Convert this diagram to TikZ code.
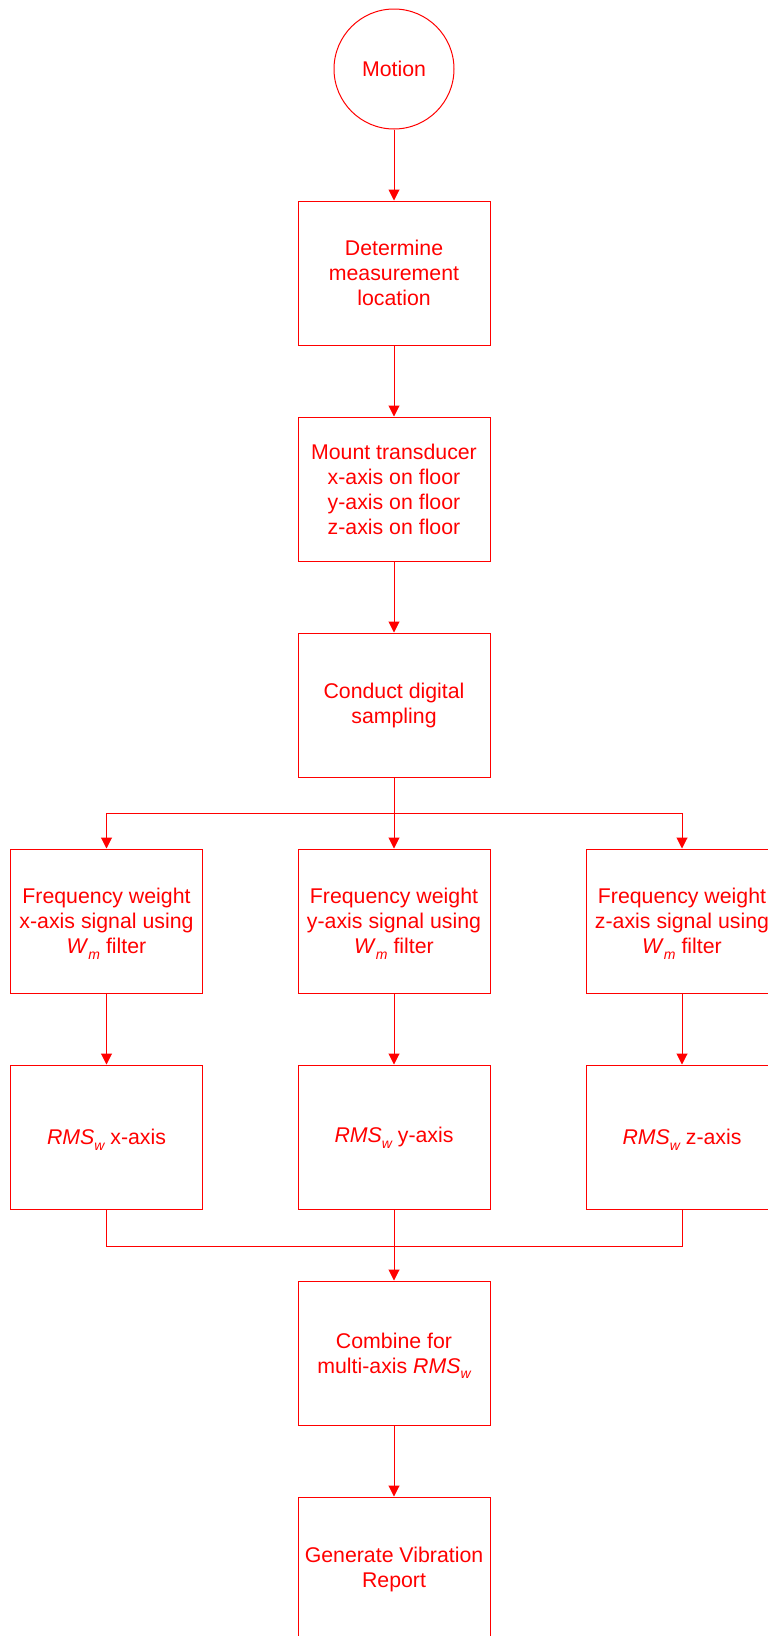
\documentclass[tikz,border=0pt]{standalone}
\usepackage{fontspec}
\setmainfont{Liberation Sans}
\usetikzlibrary{arrows.meta}
\definecolor{fred}{RGB}{255,0,0}
\newcommand{\sbit}[1]{\smash{\raisebox{-5.5pt}{\fontsize{14}{14}\selectfont\itshape #1}}}
\begin{document}
\begin{tikzpicture}[x=1pt,y=-1pt,
  every node/.style={font=\fontsize{21.3}{25}\selectfont, text=fred},
  stepbox/.style={draw=fred, line width=1pt, minimum width=192pt, minimum height=144pt, inner sep=0pt, align=center},
  startnode/.style={draw=fred, circle, line width=1pt, minimum size=120pt, inner sep=0pt},
  link/.style={draw=fred, line width=1pt, -{Triangle[width=11pt,length=11pt]}},
  plain/.style={draw=fred, line width=1pt}]
\useasboundingbox (0,0) rectangle (768,1636);
\fill[white] (0,0) rectangle (768,1636);
\node[startnode] (motion) at (394,69) {Motion};
\node[stepbox] (det) at (394,273) {Determine\\measurement\\location};
\node[stepbox] (mount) at (394,489) {Mount transducer\\x-axis on floor\\y-axis on floor\\z-axis on floor};
\node[stepbox] (conduct) at (394,705) {Conduct digital\\sampling};
\node[stepbox] (fx) at (106.5,921) {Frequency weight\\x-axis signal using\\\textit{W}\sbit{m} filter};
\node[stepbox] (fy) at (394,921) {Frequency weight\\y-axis signal using\\\textit{W}\sbit{m} filter};
\node[stepbox] (fz) at (682,921) {Frequency weight\\z-axis signal using\\\textit{W}\sbit{m} filter};
\node[stepbox] (rx) at (106.5,1137) {\textit{RMS}\sbit{w} x-axis};
\node[stepbox] (ry) at (394,1137) {\textit{RMS}\sbit{w} y-axis};
\node[stepbox] (rz) at (682,1137) {\textit{RMS}\sbit{w} z-axis};
\node[stepbox] (combine) at (394,1353) {Combine for\\multi-axis \textit{RMS}\sbit{w}};
\node[stepbox] (gen) at (394,1569) {Generate Vibration\\Report};
\coordinate (split) at (394,813);
\coordinate (merge) at (394,1246);
\draw[link] (motion) -- (det);
\draw[link] (det) -- (mount);
\draw[link] (mount) -- (conduct);
\draw[plain] (conduct.south) -- (split);
\draw[link] (split) -| (fx.north);
\draw[link] (split) -- (fy.north);
\draw[link] (split) -| (fz.north);
\draw[link] (fx) -- (rx);
\draw[link] (fy) -- (ry);
\draw[link] (fz) -- (rz);
\draw[plain] (rx.south) |- (merge);
\draw[plain] (rz.south) |- (merge);
\draw[link] (ry.south) -- (combine.north);
\draw[link] (combine) -- (gen);
\end{tikzpicture}
\end{document}
